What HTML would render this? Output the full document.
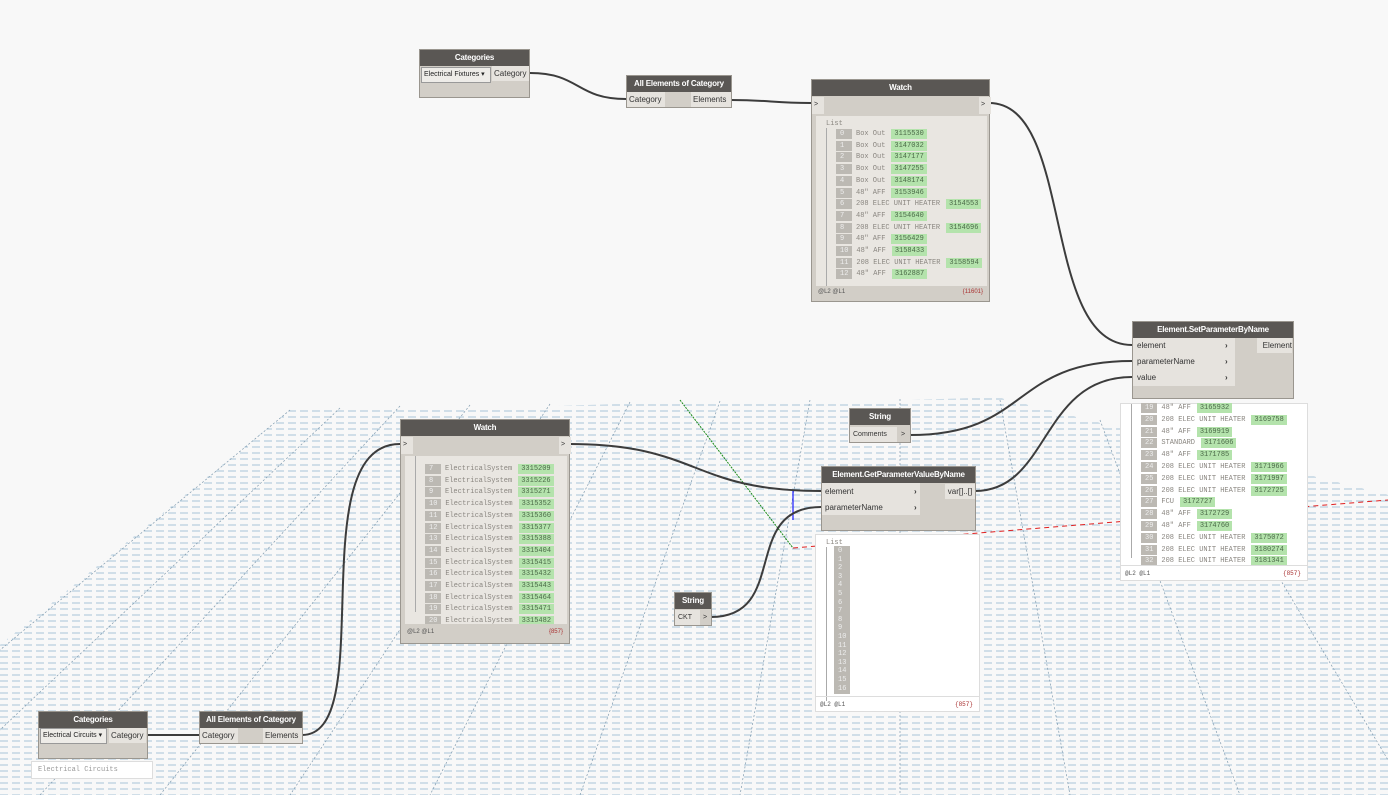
<!DOCTYPE html>
<html><head><meta charset="utf-8">
<style>
body{margin:0;width:1388px;height:795px;background:#f8f8f8;position:relative;overflow:hidden;font-family:"Liberation Sans",sans-serif}
.n{position:absolute;background:#d2cec7;border:1px solid #9a968f;box-sizing:border-box}
.h{background:#5a5754;color:#fff;font-size:8px;font-weight:bold;text-align:center;height:16px;line-height:16px;white-space:nowrap;overflow:hidden;letter-spacing:-0.2px}
.a{position:absolute;font-size:8px;color:#333;line-height:15px;white-space:nowrap}
.lt{background:#e6e3de}
.dd{position:absolute;background:#eeece8;border:1px solid #999;font-size:7px;line-height:14px;padding-left:2px;box-sizing:border-box;color:#222;white-space:nowrap;overflow:hidden}
.wl{position:absolute;background:#e9e6e1;font-family:"Liberation Mono",monospace;font-size:7px;color:#8a8680}
.r{position:absolute;white-space:nowrap;height:10px;line-height:10px}
.i{display:inline-block;background:#bcb9b3;color:#eee;padding:0 4px;margin-right:4px;min-width:8px}
.v{display:inline-block;background:#b4e3ac;color:#4b6a48;padding:0 3px;margin-left:6px}
.f{position:absolute;font-size:6px;color:#555}
</style></head><body>
<svg width="1388" height="795" style="position:absolute;left:0;top:0">
<defs>
<pattern id="g" width="12" height="6" patternUnits="userSpaceOnUse">
<line x1="0" y1="3" x2="8" y2="3" stroke="#a7c4d8" stroke-width="1"/>
</pattern>
</defs>
<polygon points="0,645 290,410 1000,398 1388,495 1388,795 0,795" fill="url(#g)"/>
<g stroke="#7f9aae" stroke-width="0.7" stroke-dasharray="2,2">
<line x1="290" y1="410" x2="0" y2="650"/><line x1="340" y1="408" x2="0" y2="730"/>
<line x1="400" y1="406" x2="40" y2="795"/><line x1="470" y1="405" x2="160" y2="795"/>
<line x1="550" y1="404" x2="290" y2="795"/><line x1="630" y1="402" x2="430" y2="795"/>
<line x1="720" y1="401" x2="580" y2="795"/><line x1="810" y1="400" x2="740" y2="795"/>
<line x1="900" y1="399" x2="900" y2="795"/><line x1="1000" y1="400" x2="1070" y2="795"/>
<line x1="1100" y1="420" x2="1240" y2="795"/><line x1="1200" y1="445" x2="1388" y2="760"/>
</g>
<line x1="680" y1="400" x2="793" y2="548" stroke="#1a8a1a" stroke-width="1" stroke-dasharray="2,1"/>
<line x1="793" y1="490" x2="793" y2="520" stroke="#1a1aff" stroke-width="1.2"/>
<line x1="793" y1="548" x2="1388" y2="500" stroke="#e02020" stroke-width="1" stroke-dasharray="5,4"/>
<g fill="none" stroke="#3c3c3c" stroke-width="2">
<path d="M530,73 C580,73 576,99 626,99"/>
<path d="M731,100 C770,100 772,103 811,103"/>
<path d="M989,103 C1075,103 1040,345 1132,345"/>
<path d="M910,435 C1030,435 1010,361 1132,361"/>
<path d="M975,491 C1050,491 1040,377 1132,377"/>
<path d="M569,444 C700,444 690,491 821,491"/>
<path d="M711,617 C790,617 740,507 821,507"/>
<path d="M147,735 L199,735"/>
<path d="M302,735 C380,735 300,444 400,444"/>
</g>
</svg>

<div class="n" style="left:419px;top:49px;width:111px;height:49px"><div class="h">Categories</div>
<div class="dd" style="left:1px;top:17px;width:70px;height:16px">Electrical Fixtures ▾</div>
<div class="a lt" style="left:72px;top:16px;width:37px;padding-left:2px;box-sizing:border-box">Category</div></div>
<div class="n" style="left:626px;top:75px;width:106px;height:33px"><div class="h">All Elements of Category</div>
<div class="a lt" style="left:0;top:16px;width:38px;padding-left:2px;box-sizing:border-box">Category</div>
<div class="a lt" style="left:64px;top:16px;width:40px;padding-left:2px;box-sizing:border-box">Elements</div></div>
<div class="n" style="left:811px;top:79px;width:179px;height:223px"><div class="h">Watch</div>
<div class="a lt" style="left:0;top:17px;width:10px;height:17px;font-size:7px;padding-left:2px">&gt;</div>
<div class="a lt" style="left:167px;top:17px;width:10px;height:17px;font-size:7px;padding-left:2px">&gt;</div>
<div class="wl" id="w1" style="left:4px;top:36px;width:171px;height:170px"></div>
<div class="f" style="left:6px;top:209px">@L2 @L1</div><div class="f" style="right:6px;top:209px;color:#a33">{11601}</div></div>
<div class="n" style="left:1132px;top:321px;width:162px;height:78px"><div class="h">Element.SetParameterByName</div>
<div class="lt" style="position:absolute;left:0;top:16px;width:102px;height:48px"></div>
<div class="a" style="left:4px;top:16px">element</div><div class="a" style="left:4px;top:32px">parameterName</div><div class="a" style="left:4px;top:48px">value</div>
<div class="a" style="left:92px;top:16px;font-weight:bold">›</div><div class="a" style="left:92px;top:32px;font-weight:bold">›</div><div class="a" style="left:92px;top:48px;font-weight:bold">›</div>
<div class="a lt" style="left:124px;top:16px;width:35px;text-align:right">Element</div></div>
<div class="wl" id="w2" style="left:1120px;top:403px;width:186px;height:176px;background:#fff;border:1px solid #ddd"></div>
<div class="n" style="left:849px;top:408px;width:62px;height:35px"><div class="h">String</div>
<div class="a lt" style="left:0;top:18px;width:44px;padding-left:3px;font-size:7px">Comments</div><div class="a" style="left:51px;top:18px;font-size:7px">&gt;</div></div>
<div class="n" style="left:400px;top:419px;width:170px;height:225px"><div class="h">Watch</div>
<div class="a lt" style="left:0;top:17px;width:10px;height:17px;font-size:7px;padding-left:2px">&gt;</div>
<div class="a lt" style="left:158px;top:17px;width:10px;height:17px;font-size:7px;padding-left:2px">&gt;</div>
<div class="wl" id="w3" style="left:4px;top:36px;width:162px;height:168px;overflow:hidden"></div>
<div class="f" style="left:6px;top:209px">@L2 @L1</div><div class="f" style="right:6px;top:209px;color:#a33">{857}</div></div>
<div class="n" style="left:821px;top:466px;width:155px;height:65px"><div class="h">Element.GetParameterValueByName</div>
<div class="lt" style="position:absolute;left:0;top:16px;width:98px;height:32px"></div>
<div class="a" style="left:3px;top:17px">element</div><div class="a" style="left:3px;top:33px">parameterName</div>
<div class="a" style="left:92px;top:17px;font-weight:bold">›</div><div class="a" style="left:92px;top:33px;font-weight:bold">›</div>
<div class="a lt" style="left:123px;top:17px;width:30px;text-align:center">var[]..[]</div></div>
<div class="wl" id="w4" style="left:815px;top:534px;width:163px;height:176px;background:#fff;border:1px solid #ddd"></div>
<div class="n" style="left:674px;top:592px;width:38px;height:34px"><div class="h">String</div>
<div class="a lt" style="left:0;top:17px;width:22px;padding-left:3px;font-size:7px">CKT</div><div class="a" style="left:28px;top:17px;font-size:7px">&gt;</div></div>
<div class="n" style="left:38px;top:711px;width:110px;height:48px"><div class="h">Categories</div>
<div class="dd" style="left:1px;top:16px;width:67px;height:16px">Electrical Circuits ▾</div>
<div class="a lt" style="left:70px;top:16px;width:37px;padding-left:2px;box-sizing:border-box">Category</div></div>
<div style="position:absolute;left:31px;top:761px;width:122px;height:18px;background:#fff;border:1px solid #ddd;box-sizing:border-box;font-family:'Liberation Mono',monospace;font-size:7px;color:#999;line-height:16px;padding-left:6px">Electrical Circuits</div>
<div class="n" style="left:199px;top:711px;width:104px;height:33px"><div class="h">All Elements of Category</div>
<div class="a lt" style="left:0;top:16px;width:38px;padding-left:2px;box-sizing:border-box">Category</div>
<div class="a lt" style="left:63px;top:16px;width:39px;padding-left:2px;box-sizing:border-box">Elements</div></div>

<script>
function fill(id,list,x0,y0,dy,header,footer){var el=document.getElementById(id),h='';
if(header)h+='<div class="r" style="left:10px;top:3px">List</div>';
h+='<div style="position:absolute;left:10px;top:'+(header?12:0)+'px;width:1px;height:'+(el.offsetHeight-(footer?24:12))+'px;background:#aaa"></div>';
list.forEach(function(r,k){h+='<div class="r" style="left:'+x0+'px;top:'+(y0+k*dy)+'px"><span class="i">'+r[0]+'</span>'+r[1]+(r[2]?'<span class="v">'+r[2]+'</span>':'')+'</div>'});
if(footer)h+='<div style="position:absolute;left:0;right:0;bottom:0;height:14px;border-top:1px solid #ddd"></div><div class="f" style="left:4px;bottom:3px">@L2 @L1</div><div class="f" style="right:6px;bottom:3px;color:#a33">{857}</div>';
el.innerHTML=h;}
var A="48\" AFF",E="208 ELEC UNIT HEATER";
fill('w1',[[0,'Box Out',3115530],[1,'Box Out',3147032],[2,'Box Out',3147177],[3,'Box Out',3147255],[4,'Box Out',3148174],[5,A,3153946],[6,E,3154553],[7,A,3154640],[8,E,3154696],[9,A,3156429],[10,A,3158433],[11,E,3158594],[12,A,3162887]],20,13,11.7,true,false);
fill('w2',[[19,A,3165932],[20,E,3169758],[21,A,3169919],[22,'STANDARD',3171606],[23,A,3171785],[24,E,3171966],[25,E,3171997],[26,E,3172725],[27,'FCU',3172727],[28,A,3172729],[29,A,3174760],[30,E,3175072],[31,E,3180274],[32,E,3181341]],20,-1,11.8,false,true);
var es=[];[[7,3315209],[8,3315226],[9,3315271],[10,3315352],[11,3315360],[12,3315377],[13,3315388],[14,3315404],[15,3315415],[16,3315432],[17,3315443],[18,3315464],[19,3315471],[20,3315482]].forEach(function(a){es.push([a[0],'ElectricalSystem',a[1]])});
fill('w3',es,20,8,11.7,false,false);
var b=[];for(var i=0;i<17;i++)b.push([i,'','']);
fill('w4',b,18,11,8.6,true,true);
</script>
</body></html>
